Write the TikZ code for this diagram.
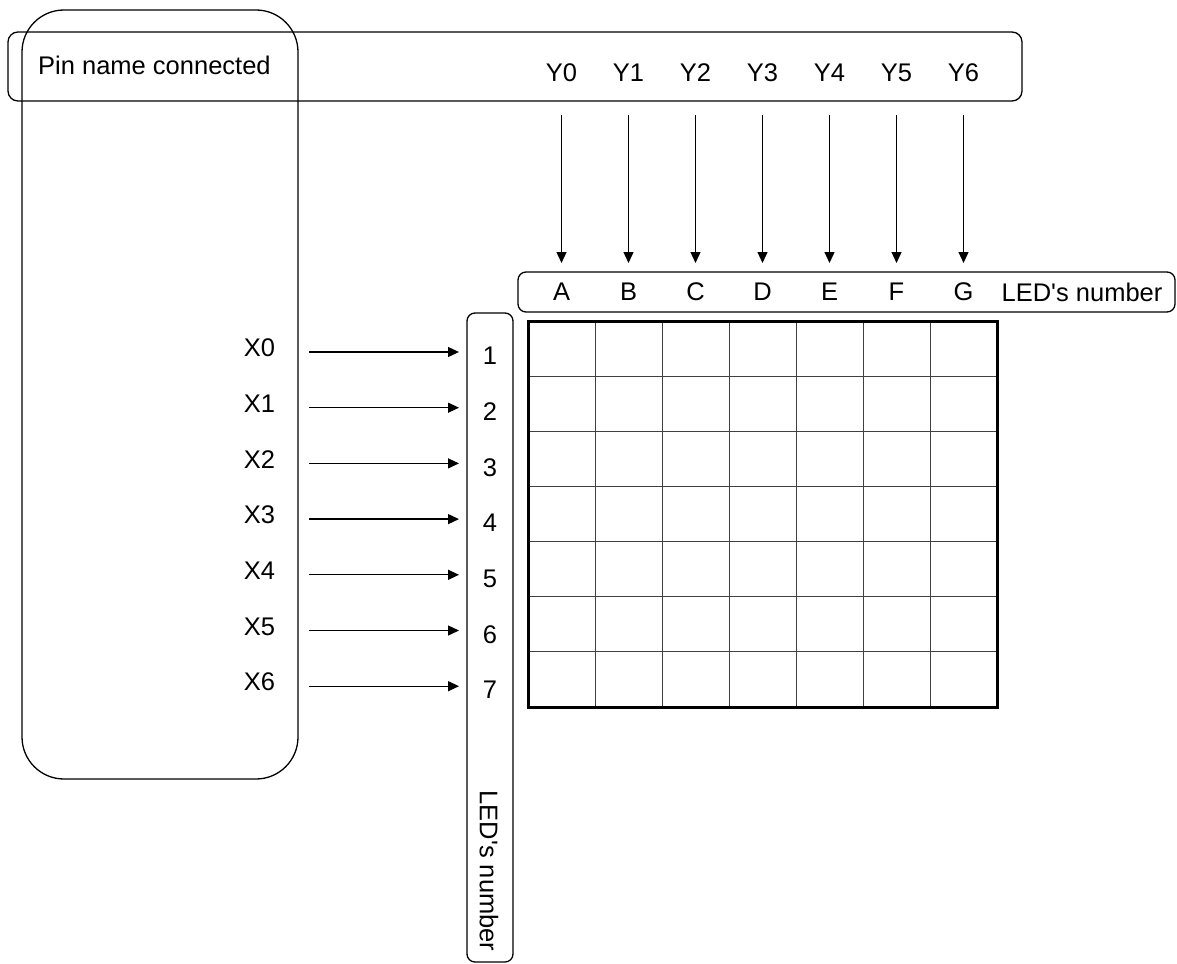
\documentclass[tikz,border=0pt]{standalone}
\usepackage{fontspec}
\setmainfont{Liberation Sans}
\usetikzlibrary{arrows.meta}
\begin{document}
\begin{tikzpicture}[x=1pt,y=-1pt,
  lbl/.style={inner sep=0pt, font=\fontsize{25.5}{30}\selectfont},
  rbox/.style={draw, line width=1.3pt, inner sep=0pt},
  arr/.style={line width=1.3pt, -{Triangle[length=11pt,width=10pt]}},
  gridthin/.style={line width=1pt, black!75},
  gridthick/.style={line width=3pt}]
\useasboundingbox (0,0) rectangle (1177,963);
% boxes
\node[rbox, rounded corners=42pt, minimum width=276pt, minimum height=769pt] (pinbox) at (160,394.5) {};
\node[rbox, rounded corners=10pt, minimum width=1014pt, minimum height=69pt] (ybox) at (515,66.5) {};
\node[rbox, rounded corners=8pt, minimum width=657pt, minimum height=40pt] (colbox) at (846.5,292) {};
\node[rbox, rounded corners=8pt, minimum width=46pt, minimum height=649pt] (rowbox) at (490,637.5) {};
% texts
\node[lbl, anchor=west] (pin) at (38,65) {Pin name connected};
\node[lbl] (colled) at (1082,292) {LED\textquotesingle s number};
\node[lbl, rotate=-90] (rowled) at (489,871) {LED\textquotesingle s number};
% columns
\foreach \i/\c in {0/A,1/B,2/C,3/D,4/E,5/F,6/G}{
  \node[lbl] (Y\i) at ({561.5+67*\i},72.5) {Y\i};
  \node[lbl] (col\c) at ({561.5+67*\i},292) {\c};
  \coordinate (ys\i) at ({561.5+67*\i},115);
  \coordinate (ye\i) at ({561.5+67*\i},263);
  \draw[arr] (ys\i) -- (ye\i);
}
% rows
\foreach \i in {0,...,6}{
  \pgfmathtruncatemacro{\n}{\i+1}
  \node[lbl] (X\i) at (259.5,{348+55.7*\i}) {X\i};
  \node[lbl] (row\n) at (490,{356+55.7*\i}) {\n};
  \coordinate (xs\i) at (309,{352+55.7*\i});
  \coordinate (xe\i) at (459,{352+55.7*\i});
  \draw[arr] (xs\i) -- (xe\i);
}
% LED grid
\foreach \k in {1,...,6}{
  \draw[gridthin] ({528+67*\k},321) -- ({528+67*\k},707);
  \draw[gridthin] (528,{321+55.143*\k}) -- (997,{321+55.143*\k});
}
\draw[gridthick] (528,321) rectangle (997,707);
\end{tikzpicture}
\end{document}
